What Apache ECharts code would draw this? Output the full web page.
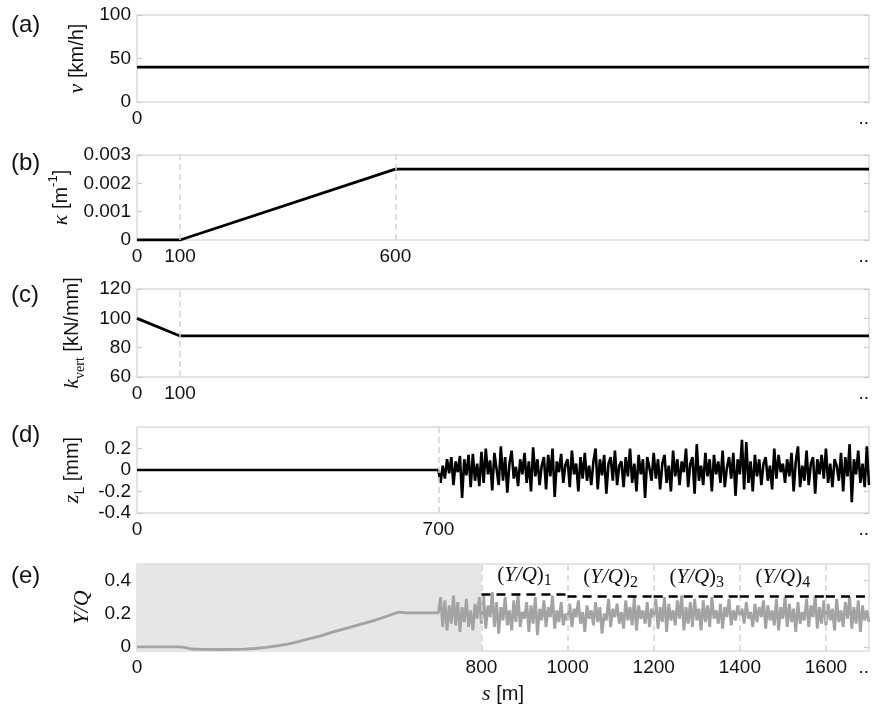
<!DOCTYPE html>
<html>
<head>
<meta charset="utf-8">
<script src="https://cdn.jsdelivr.net/npm/echarts@6/dist/echarts.min.js"></script>
<style>html,body{margin:0;padding:0;background:#fff}#c{width:872px;height:706px}</style>
</head>
<body>
<div id="c"></div>
<script>
// ---- data ----
const sMax = 1700;
const speedS = [0, 1700];
const speedV = [40, 40];
const curvS = [0, 100, 600, 1700];
const curvK = [0, 0, 0.0025, 0.0025];
const stiffS = [0, 100, 1700];
const stiffK = [100, 88, 88];
const noiseStart = 700;
const noiseStep = 5;
const zlNoise = [
  0, -0.12, 0.04, -0.08, 0.1, -0.03, 0.12, -0.14, 0.08, -0.02,
  0.13, -0.26, 0.1, -0.05, 0.14, -0.16, 0.15, -0.1, 0.06, -0.15,
  0.17, -0.12, 0.2, -0.04, 0.09, -0.19, 0.16, 0.01, -0.14, 0.22,
  -0.1, 0.12, -0.21, 0.06, 0.18, -0.08, 0.03, -0.15, 0.1, -0.04,
  0.16, -0.12, 0.08, -0.2, 0.21, -0.06, 0.1, -0.14, 0.04, 0.12,
  -0.18, 0.14, -0.06, 0.2, -0.25, 0.08, -0.02, 0.15, -0.12, 0.05,
  0.1, -0.16, 0.18, -0.04, 0.06, -0.2, 0.12, -0.08, 0.16, -0.1,
  0.04, -0.14, 0.08, 0.2, -0.18, 0.1, -0.05, 0.14, -0.22, 0.06,
  0.12, -0.1, 0.18, -0.14, 0.04, 0.08, -0.16, 0.12, -0.06, 0.2,
  -0.12, 0.06, -0.2, 0.14, -0.04, 0.1, -0.26, 0.12, 0.02, -0.1,
  0.16, -0.08, 0.1, -0.18, 0.06, 0.14, -0.12, 0.04, -0.2, 0.18,
  -0.06, 0.1, -0.14, 0.08, -0.02, 0.2, -0.16, 0.06, 0.12, -0.22,
  0.24, -0.1, 0.04, -0.14, 0.16, -0.06, 0.1, -0.2, 0.14, -0.04,
  0.08, -0.12, 0.18, -0.16, 0.02, 0.12, -0.08, 0.16, -0.24, 0.1,
  -0.04, 0.28, -0.18, 0.26, -0.12, 0.08, -0.2, 0.14, -0.06, 0.1,
  -0.14, 0.06, 0.12, -0.1, 0.04, -0.18, 0.2, -0.08, 0.14, -0.02,
  0.06, -0.12, 0.1, -0.06, 0.16, -0.2, 0.08, 0.22, -0.16, 0.04,
  -0.1, 0.18, -0.14, 0.06, 0.12, -0.22, 0.1, -0.04, 0.14, -0.08,
  0.2, -0.12, 0.06, -0.16, 0.1, 0.04, -0.1, 0.16, -0.2, 0.12,
  -0.06, 0.24, -0.3, 0.1, -0.04, 0.18, -0.12, 0.06, -0.16, 0.22,
  -0.14
];
const yqSmoothS = [0, 100, 110, 125, 150, 200, 250, 275, 300, 325, 350, 375, 400, 425, 450, 475, 500, 525, 550, 575, 600, 610, 625, 695];
const yqSmoothV = [0, 0, -0.003, -0.013, -0.015, -0.016, -0.014, -0.01, -0.003, 0.006, 0.016, 0.031, 0.049, 0.065, 0.086, 0.104, 0.122, 0.14, 0.158, 0.18, 0.203, 0.21, 0.205, 0.205];
const yqNoise = [
  0.205, 0.3, 0.12, 0.28, 0.1, 0.25, 0.14, 0.31, 0.13, 0.27,
  0.09, 0.24, 0.15, 0.29, 0.12, 0.22, 0.1, 0.26, 0.17, 0.3,
  0.14, 0.31, 0.11, 0.25, 0.18, 0.33, 0.12, 0.27, 0.08, 0.24,
  0.16, 0.3, 0.13, 0.22, 0.1, 0.28, 0.15, 0.32, 0.12, 0.21,
  0.17, 0.27, 0.09, 0.25, 0.14, 0.3, 0.07, 0.23, 0.16, 0.28,
  0.12, 0.24, 0.18, 0.31, 0.11, 0.22, 0.15, 0.27, 0.13, 0.2,
  0.16, 0.26, 0.12, 0.23, 0.18, 0.28, 0.14, 0.21, 0.09, 0.25,
  0.17, 0.22, 0.13, 0.27, 0.15, 0.24, 0.08, 0.2, 0.16, 0.29,
  0.12, 0.23, 0.18, 0.26, 0.14, 0.21, 0.11, 0.28, 0.16, 0.24,
  0.13, 0.3, 0.1, 0.25, 0.17, 0.22, 0.14, 0.27, 0.12, 0.23,
  0.18, 0.29, 0.11, 0.24, 0.15, 0.3, 0.09, 0.26, 0.16, 0.22,
  0.13, 0.28, 0.17, 0.31, 0.1, 0.24, 0.14, 0.27, 0.12, 0.29,
  0.16, 0.23, 0.1, 0.28, 0.15, 0.25, 0.12, 0.3, 0.17, 0.22,
  0.14, 0.26, 0.11, 0.24, 0.18, 0.29, 0.13, 0.22, 0.16, 0.25,
  0.19, 0.23, 0.14, 0.27, 0.17, 0.21, 0.12, 0.26, 0.15, 0.24,
  0.18, 0.28, 0.11, 0.25, 0.16, 0.22, 0.13, 0.29, 0.1, 0.24,
  0.17, 0.3, 0.12, 0.26, 0.15, 0.23, 0.09, 0.27, 0.14, 0.21,
  0.16, 0.29, 0.12, 0.25, 0.18, 0.31, 0.11, 0.24, 0.14, 0.28,
  0.13, 0.26, 0.16, 0.23, 0.1, 0.29, 0.15, 0.22, 0.12, 0.27,
  0.17, 0.3, 0.11, 0.24, 0.14, 0.28, 0.09, 0.25, 0.16, 0.22,
  0.15
];
const yqBounds = [800, 1000, 1200, 1400, 1600, 1700];
const yqMax = [0.316, 0.305, 0.305, 0.304, 0.304];
const yqNames = ['1', '2', '3', '4'];
const shadeRange = [0, 800];
// tick labels
const xTicks = [[0, 1700], [0, 100, 600, 1700], [0, 100, 1700], [0, 700, 1700], [0, 800, 1000, 1200, 1400, 1600, 1700]];
const xDashed = [[], [100, 600], [100], [700], [800, 1000, 1200, 1400, 1600]];
const yTicks = [[0, 50, 100], [0, 0.001, 0.002, 0.003], [60, 80, 100, 120], [-0.4, -0.2, 0, 0.2], [0, 0.2, 0.4]];
const yRanges = [[0, 100], [0, 0.003], [60, 120], [-0.4, 0.4], [-0.025, 0.5]];
const panelLetters = ['(a)', '(b)', '(c)', '(d)', '(e)'];

// ---- layout ----
const grids = [
  {top: 15, h: 87}, {top: 155, h: 85}, {top: 289, h: 88}, {top: 427, h: 86}, {top: 564, h: 87}
];
const letterTop = [13, 151, 283, 423, 564];
const nameGaps = [40, 56, 50, 50, 38];
const SANS = 'Liberation Sans';
const SERIF = 'Liberation Serif';
const rich = {
  it: {fontFamily: SERIF, fontStyle: 'italic', fontSize: 22, lineHeight: 30, verticalAlign: 'middle', color: '#111'},
  t: {fontFamily: SANS, fontSize: 20, lineHeight: 30, verticalAlign: 'middle', color: '#111'},
  sub: {fontFamily: SERIF, fontSize: 14, lineHeight: 14, verticalAlign: 'bottom', color: '#111'},
  subs: {fontFamily: SANS, fontSize: 14, lineHeight: 14, verticalAlign: 'bottom', color: '#111'},
  sup: {fontFamily: SANS, fontSize: 13, lineHeight: 13, verticalAlign: 'top', color: '#111'}
};
const yNames = [
  '{it|ν}{t| [km/h]}',
  '{it|κ}{t| [m}{sup|-1}{t|]}',
  '{it|k}{sub|vert}{t| [kN/mm]}',
  '{it|z}{subs|L}{t| [mm]}',
  '{it|Y/Q}'
];

const toPairs = (xs, ys) => xs.map((x, i) => [x, ys[i]]);
const noisePairs = arr => arr.map((v, i) => [noiseStart + noiseStep * i, v]);

const gridOpt = grids.map(g => ({left: 137, right: 2, top: g.top, height: g.h, show: true, borderColor: '#dcdcdc', borderWidth: 1.5, backgroundColor: 'transparent'}));

const xAxes = grids.map((g, i) => ({
  type: 'value', gridIndex: i, min: 0, max: sMax,
  axisLine: {show: false}, axisTick: {show: false}, splitLine: {show: false},
  axisLabel: {
    customValues: xTicks[i], fontFamily: SANS, fontSize: 19, color: '#111', margin: 7,
    alignMaxLabel: 'right',
    formatter: v => v === sMax ? '..' : String(v)
  },
  name: i === 4 ? '{it|s}{t| [m]}' : '',
  nameLocation: 'middle', nameGap: 28,
  nameTextStyle: {rich: rich}
}));

const yAxes = [];
grids.forEach((g, i) => {
  yAxes.push({
    type: 'value', gridIndex: i, min: yRanges[i][0], max: yRanges[i][1],
    axisLine: {show: false},
    splitLine: {show: false},
    axisTick: {show: true, inside: true, length: 5, customValues: yTicks[i], lineStyle: {color: '#cccccc', width: 1.2}},
    axisLabel: {
      customValues: yTicks[i], fontFamily: SANS, fontSize: 19, color: '#111', margin: 6,
      formatter: v => String(v)
    },
    name: yNames[i], nameLocation: 'middle', nameRotate: 90, nameGap: nameGaps[i],
    nameTextStyle: {rich: rich}
  });
});
// mirrored ticks on right edges
grids.forEach((g, i) => {
  yAxes.push({
    type: 'value', gridIndex: i, position: 'right', min: yRanges[i][0], max: yRanges[i][1],
    axisLine: {show: false}, splitLine: {show: false}, axisLabel: {show: false},
    axisTick: {show: true, inside: true, length: 5, customValues: yTicks[i], lineStyle: {color: '#cccccc', width: 1.2}}
  });
});

const dashedML = i => ({
  silent: true, symbol: 'none', label: {show: false},
  lineStyle: {color: '#d4d4d4', type: [6, 4], width: 1.5},
  data: xDashed[i].map(x => ({xAxis: x}))
});

const blackLine = {color: '#000', width: 2.8};

const yqSegData = yqMax.map((v, k) => [
  {coord: [yqBounds[k], v], label: k < yqNames.length ? {
      show: true, position: 'insideMiddleTop', distance: 6,
      formatter: '{p|(}{m|Y/Q}{p|)}{s|' + yqNames[k] + '}',
      rich: {
        p: {fontFamily: SERIF, fontSize: 21, lineHeight: 26, verticalAlign: 'middle', color: '#111'},
        m: {fontFamily: SERIF, fontStyle: 'italic', fontSize: 21, lineHeight: 26, verticalAlign: 'middle', color: '#111'},
        s: {fontFamily: SERIF, fontSize: 16, lineHeight: 16, verticalAlign: 'bottom', color: '#111'}
      }
    } : {show: false}},
  {coord: [yqBounds[k + 1], v]}
]);

const series = [
  {type: 'line', xAxisIndex: 0, yAxisIndex: 0, data: toPairs(speedS, speedV), showSymbol: false, lineStyle: blackLine, animation: false},
  {type: 'line', xAxisIndex: 1, yAxisIndex: 1, data: toPairs(curvS, curvK), showSymbol: false, lineStyle: blackLine, markLine: dashedML(1), animation: false, z: 3},
  {type: 'line', xAxisIndex: 2, yAxisIndex: 2, data: toPairs(stiffS, stiffK), showSymbol: false, lineStyle: blackLine, markLine: dashedML(2), animation: false, z: 3},
  {type: 'line', xAxisIndex: 3, yAxisIndex: 3, data: [[0, 0]].concat(noisePairs(zlNoise)), showSymbol: false, lineStyle: {color: '#000', width: 2.6}, markLine: dashedML(3), animation: false, z: 3},
  {type: 'line', xAxisIndex: 4, yAxisIndex: 4, data: toPairs(yqSmoothS, yqSmoothV).concat(noisePairs(yqNoise)), showSymbol: false,
    lineStyle: {color: '#a3a3a3', width: 2.8}, animation: false, z: 3,
    markLine: dashedML(4),
    markArea: {silent: true, itemStyle: {color: '#e6e6e6'}, data: [[{xAxis: shadeRange[0]}, {xAxis: shadeRange[1]}]]}
  },
  {type: 'line', xAxisIndex: 4, yAxisIndex: 4, data: [], animation: false, z: 4,
    markLine: {silent: true, symbol: 'none', lineStyle: {color: '#000', type: [9, 6], width: 2.6}, data: yqSegData}
  }
];

const graphic = panelLetters.map((t, i) => ({
  type: 'text', left: 11, top: letterTop[i],
  style: {text: t, fontFamily: SANS, fontSize: 24, fill: '#111'}
}));

const chart = echarts.init(document.getElementById('c'), null, {renderer: 'canvas'});
chart.setOption({
  animation: false,
  grid: gridOpt, xAxis: xAxes, yAxis: yAxes, series: series, graphic: graphic
});
</script>
</body>
</html>
